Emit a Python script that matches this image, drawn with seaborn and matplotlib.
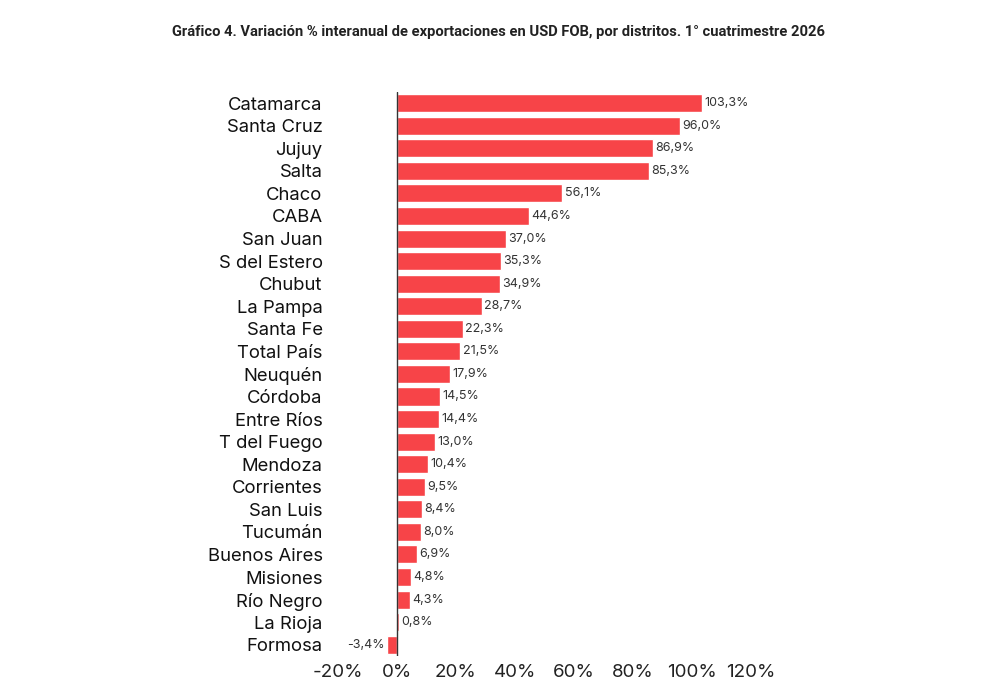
import matplotlib.pyplot as plt
import seaborn as sns
import pandas as pd

# datos del gráfico
distritos = ['Catamarca', 'Santa Cruz', 'Jujuy', 'Salta', 'Chaco', 'CABA', 'San Juan',
             'S del Estero', 'Chubut', 'La Pampa', 'Santa Fe', 'Total País', 'Neuquén',
             'Córdoba', 'Entre Ríos', 'T del Fuego', 'Mendoza', 'Corrientes', 'San Luis',
             'Tucumán', 'Buenos Aires', 'Misiones', 'Río Negro', 'La Rioja', 'Formosa']
variacion = [103.3, 96.0, 86.9, 85.3, 56.1, 44.6, 37.0, 35.3, 34.9, 28.7, 22.3, 21.5, 17.9,
             14.5, 14.4, 13.0, 10.4, 9.5, 8.4, 8.0, 6.9, 4.8, 4.3, 0.8, -3.4]
ticks_x = [-20, 0, 20, 40, 60, 80, 100, 120]

df = pd.DataFrame({'distrito': distritos, 'variacion': variacion})

sns.set_style('white')
plt.rcParams['font.family'] = ['Inter', 'DejaVu Sans']

fig = plt.figure(figsize=(10, 6.88), dpi=100)
ax = fig.add_axes([0.338, 0.0465, 0.413, 0.82])

sns.barplot(data=df, x='variacion', y='distrito', orient='h', color='#F74448',
            saturation=1, width=0.8, ax=ax)

# etiquetas de valor
for i, v in enumerate(variacion):
    txt = f'{v:.1f}%'.replace('.', ',')
    if v >= 0:
        ax.text(v + 0.8, i, txt, va='center', ha='left', fontsize=9, color='#333333')
    else:
        ax.text(v - 0.8, i, txt, va='center', ha='right', fontsize=9, color='#333333')

ax.axvline(0, color='#333333', lw=1)
ax.set_xlim(-20, 120)
ax.set_ylim(len(distritos) - 0.5, -0.5)
ax.set_xticks(ticks_x)
ax.set_xticklabels([f'{t}%' for t in ticks_x], fontsize=13.5, color='#222222')
ax.tick_params(axis='y', labelsize=13.3, colors='#111111', length=0, pad=11)
ax.tick_params(axis='x', length=0, pad=6)
ax.set_xlabel('')
ax.set_ylabel('')
for s in ax.spines.values():
    s.set_visible(False)

fig.text(0.499, 0.953, 'Gráfico 4. Variación % interanual de exportaciones en USD FOB, por distritos. 1° cuatrimestre 2026',
         ha='center', va='center', fontsize=10.6, fontweight='bold', color='#222222',
         family=['Roboto', 'DejaVu Sans'])

fig.savefig('out.png', dpi=100, facecolor='white')
